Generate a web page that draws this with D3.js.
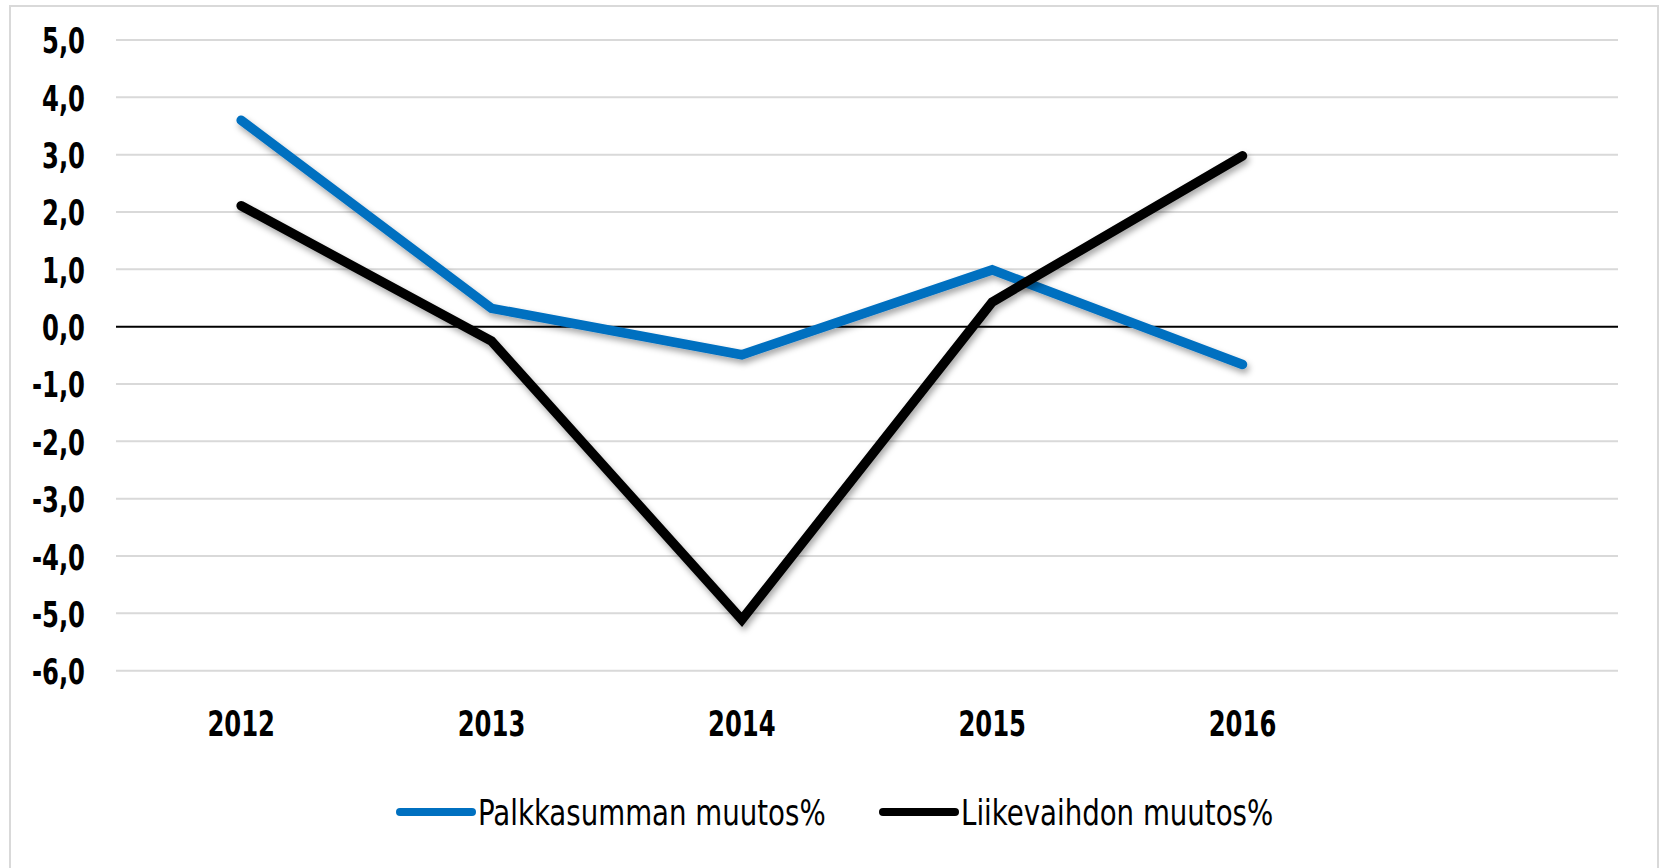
<!DOCTYPE html>
<html>
<head>
<meta charset="utf-8">
<script src="https://cdn.jsdelivr.net/npm/d3@7"></script>
<style>
  body { margin: 0; background: #fff; }
  text { font-family: "DejaVu Sans Condensed", "DejaVu Sans", sans-serif; }
  .tick-label { font-weight: bold; font-size: 36px; fill: #000; }
  .legend-label { font-size: 35px; fill: #000; }
</style>
</head>
<body>
<div id="chart-area"></div>
<script>
// Data
let years = ["2012", "2013", "2014", "2015", "2016", ""];
let palkkasumma = [3.6, 0.32, -0.49, 0.99, -0.66];
let liikevaihto = [2.11, -0.25, -5.11, 0.43, 2.98];
let yTicks = [5, 4, 3, 2, 1, 0, -1, -2, -3, -4, -5, -6];
let seriesNames = ["Palkkasumman muutos%", "Liikevaihdon muutos%"];
let seriesColors = ["#0070c0", "#000000"];

let width = 1661, height = 868;

// the installed fonts are wider than the original narrow face, so squeeze text
let boldSqueeze = 0.75, regularSqueeze = 0.878;

let svg = d3
  .select("#chart-area")
  .append("svg")
  .attr("width", width)
  .attr("height", height);

// drop shadow under lines
let defs = svg.append("defs");
defs.append("filter")
  .attr("id", "shadow")
  .attr("x", "-10%").attr("y", "-10%")
  .attr("width", "120%").attr("height", "130%")
  .append("feDropShadow")
  .attr("dx", 2)
  .attr("dy", 4)
  .attr("stdDeviation", 3)
  .attr("flood-color", "#000")
  .attr("flood-opacity", 0.35);

// outer frame
svg.append("rect")
  .attr("x", 10)
  .attr("y", 6)
  .attr("width", 1648)
  .attr("height", 880)
  .attr("fill", "#fff")
  .attr("stroke", "#d9d9d9")
  .attr("stroke-width", 2);

// Scales
let x = d3.scaleBand()
  .domain(years)
  .range([116, 1618]);

let y = d3.scaleLinear()
  .domain([-6, 5])
  .range([670.7, 40]);

// gridlines
svg.append("g")
  .selectAll("line")
  .data(yTicks.filter(d => d != 0))
  .enter()
  .append("line")
  .attr("x1", x.range()[0])
  .attr("x2", x.range()[1])
  .attr("y1", d => y(d))
  .attr("y2", d => y(d))
  .attr("stroke", "#d9d9d9")
  .attr("stroke-width", 2);

// y axis
let yAxis = d3.axisLeft(y)
  .tickValues(yTicks)
  .tickSize(0)
  .tickPadding(0)
  .tickFormat(d => d3.format(".1f")(d).replace(".", ",").replace("−", "-"));

svg.append("g")
  .attr("class", "axis y-axis")
  .attr("transform", "translate(85,0)")
  .call(yAxis)
  .call(g => g.select(".domain").remove())
  .selectAll("text")
  .attr("class", "tick-label")
  .attr("x", 0)
  .attr("dy", "0.36em")
  .attr("transform", "scale(" + boldSqueeze + ",1)");

// x axis
let xAxis = d3.axisBottom(x).tickSize(0).tickPadding(0);

svg.append("g")
  .attr("class", "axis x-axis")
  .attr("transform", "translate(0,736)")
  .call(xAxis)
  .call(g => g.select(".domain").remove())
  .selectAll("text")
  .attr("class", "tick-label")
  .attr("dy", "0")
  .attr("transform", "scale(" + boldSqueeze + ",1)");

// zero line
svg.append("line")
  .attr("x1", x.range()[0])
  .attr("x2", x.range()[1])
  .attr("y1", y(0))
  .attr("y2", y(0))
  .attr("stroke", "#000")
  .attr("stroke-width", 2);

// lines
let line = d3.line()
  .x((d, i) => x(years[i]) + x.bandwidth() / 2)
  .y(d => y(d));

[palkkasumma, liikevaihto].forEach((values, i) => {
  svg.append("path")
    .datum(values)
    .attr("d", line)
    .attr("fill", "none")
    .attr("stroke", seriesColors[i])
    .attr("stroke-width", 9.5)
    .attr("stroke-linecap", "round")
    .attr("stroke-linejoin", "miter")
    .attr("filter", "url(#shadow)");
});

// legend
let legendX = [400, 883];
let legend = svg.append("g")
  .selectAll("g")
  .data(seriesNames)
  .enter()
  .append("g")
  .attr("transform", (d, i) => "translate(" + legendX[i] + ",812)");

legend.append("line")
  .attr("x1", 0)
  .attr("x2", 72)
  .attr("stroke", (d, i) => seriesColors[i])
  .attr("stroke-width", 8)
  .attr("stroke-linecap", "round");

legend.append("text")
  .attr("class", "legend-label")
  .attr("transform", "translate(78,13) scale(" + regularSqueeze + ",1)")
  .text(d => d);
</script>
</body>
</html>
